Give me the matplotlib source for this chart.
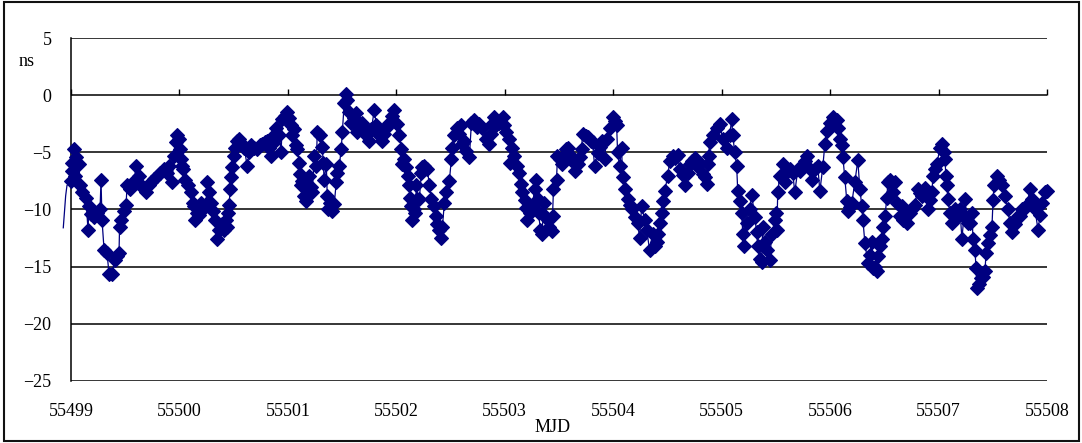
"""Clock offset time series (ns) against MJD, Excel-style diamond markers."""
import numpy as np
import matplotlib
matplotlib.use("Agg")
import matplotlib.pyplot as plt  # noqa: E402
from matplotlib.patches import Rectangle  # noqa: E402

MJD0 = 55499
NAVY = "#000080"

# days since MJD0
dt = [
    0.000, 0.005, 0.010, 0.028, 0.037, 0.046, 0.074, 0.083, 0.102, 0.138,
    0.157, 0.166, 0.185, 0.212, 0.240, 0.268, 0.277, 0.286, 0.305, 0.332,
    0.351, 0.378, 0.406, 0.425, 0.443, 0.448, 0.462, 0.489, 0.508, 0.517,
    0.545, 0.563, 0.582, 0.600, 0.628, 0.646, 0.674, 0.692, 0.720, 0.738,
    0.766, 0.794, 0.822, 0.858, 0.886, 0.905, 0.932, 0.951, 0.969, 0.979,
    0.997, 1.006, 1.015, 1.025, 1.034, 1.052, 1.080, 1.108, 1.126, 1.135,
    1.145, 1.163, 1.182, 1.200, 1.218, 1.246, 1.255, 1.274, 1.292, 1.311,
    1.329, 1.348, 1.366, 1.394, 1.412, 1.431, 1.440, 1.449, 1.458, 1.468,
    1.477, 1.486, 1.505, 1.514, 1.532, 1.551, 1.578, 1.597, 1.625, 1.643,
    1.662, 1.689, 1.717, 1.745, 1.763, 1.791, 1.809, 1.828, 1.846, 1.865,
    1.874, 1.892, 1.920, 1.938, 1.948, 1.975, 1.994, 2.012, 2.031, 2.040,
    2.058, 2.077, 2.086, 2.105, 2.114, 2.123, 2.132, 2.151, 2.169, 2.179,
    2.197, 2.215, 2.225, 2.243, 2.262, 2.271, 2.299, 2.317, 2.326, 2.335,
    2.354, 2.363, 2.372, 2.391, 2.409, 2.428, 2.446, 2.456, 2.474, 2.492,
    2.502, 2.520, 2.539, 2.548, 2.566, 2.585, 2.612, 2.631, 2.640, 2.658,
    2.686, 2.705, 2.723, 2.751, 2.769, 2.797, 2.815, 2.843, 2.871, 2.889,
    2.908, 2.935, 2.963, 2.982, 3.009, 3.028, 3.046, 3.055, 3.074, 3.092,
    3.111, 3.120, 3.129, 3.139, 3.148, 3.166, 3.175, 3.185, 3.194, 3.212,
    3.231, 3.240, 3.258, 3.286, 3.305, 3.323, 3.351, 3.369, 3.379, 3.397,
    3.415, 3.425, 3.443, 3.462, 3.489, 3.508, 3.517, 3.535, 3.563, 3.582,
    3.600, 3.609, 3.628, 3.646, 3.674, 3.692, 3.720, 3.748, 3.766, 3.794,
    3.831, 3.859, 3.877, 3.886, 3.905, 3.923, 3.951, 3.979, 3.997, 4.015,
    4.043, 4.052, 4.071, 4.089, 4.117, 4.135, 4.154, 4.163, 4.182, 4.200,
    4.209, 4.228, 4.255, 4.274, 4.292, 4.302, 4.311, 4.329, 4.339, 4.357,
    4.366, 4.394, 4.412, 4.431, 4.440, 4.449, 4.477, 4.486, 4.505, 4.523,
    4.551, 4.569, 4.579, 4.597, 4.615, 4.643, 4.671, 4.689, 4.708, 4.717,
    4.745, 4.763, 4.791, 4.809, 4.828, 4.855, 4.874, 4.892, 4.920, 4.938,
    4.966, 4.994, 5.012, 5.031, 5.040, 5.058, 5.077, 5.086, 5.105, 5.132,
    5.151, 5.169, 5.197, 5.225, 5.243, 5.262, 5.289, 5.308, 5.335, 5.363,
    5.382, 5.400, 5.409, 5.428, 5.446, 5.455, 5.474, 5.502, 5.520, 5.548,
    5.566, 5.594, 5.612, 5.640, 5.658, 5.686, 5.705, 5.723, 5.751, 5.769,
    5.797, 5.825, 5.843, 5.862, 5.871, 5.880, 5.889, 5.917, 5.954, 5.982,
    6.009, 6.046, 6.074, 6.092, 6.102, 6.120, 6.138, 6.148, 6.166, 6.185,
    6.194, 6.203, 6.231, 6.258, 6.277, 6.305, 6.323, 6.332, 6.351, 6.369,
    6.378, 6.397, 6.415, 6.443, 6.462, 6.489, 6.498, 6.508, 6.517, 6.535,
    6.563, 6.582, 6.609, 6.628, 6.655, 6.674, 6.702, 6.720, 6.748, 6.766,
    6.785, 6.812, 6.831, 6.858, 6.886, 6.905, 6.932, 6.951, 6.969, 6.997,
    7.025, 7.043, 7.062, 7.071, 7.089, 7.108, 7.117, 7.135, 7.154, 7.163,
    7.182, 7.200, 7.228, 7.255, 7.274, 7.292, 7.302, 7.320, 7.348, 7.366,
    7.385, 7.394, 7.412, 7.431, 7.440, 7.458, 7.477, 7.486, 7.505, 7.523,
    7.532, 7.551, 7.578, 7.597, 7.615, 7.643, 7.662, 7.671, 7.689, 7.708,
    7.735, 7.754, 7.781, 7.809, 7.828, 7.846, 7.874, 7.902, 7.920, 7.938,
    7.948, 7.966, 7.985, 8.012, 8.031, 8.049, 8.058, 8.068, 8.077, 8.086,
    8.105, 8.123, 8.151, 8.178, 8.197, 8.215, 8.234, 8.243, 8.261, 8.271,
    8.289, 8.308, 8.317, 8.335, 8.345, 8.354, 8.372, 8.391, 8.409, 8.428,
    8.437, 8.455, 8.474, 8.492, 8.502, 8.511, 8.538, 8.557, 8.585, 8.612,
    8.640, 8.658, 8.677, 8.705, 8.732, 8.751, 8.769, 8.788, 8.815, 8.843,
    8.862, 8.889, 8.917, 8.935, 8.954, 8.982, 9.000,
]

# clock offset, ns
ns = [
    -7.5, -6.6, -5.9, -4.7, -7.1, -5.4, -6.0, -7.9, -8.5, -9.0,
    -11.8, -9.7, -10.4, -10.7, -10.3, -10.0, -7.4, -10.9, -13.5, -13.8,
    -15.6, -15.6, -14.4, -14.1, -13.8, -11.5, -10.9, -10.1, -9.6, -7.9,
    -8.2, -7.9, -7.5, -6.2, -7.1, -7.9, -8.2, -8.5, -7.9, -7.6,
    -7.3, -7.1, -6.8, -6.5, -6.8, -6.2, -7.6, -5.3, -4.1, -3.5,
    -3.8, -4.7, -5.6, -6.2, -6.5, -7.4, -7.9, -8.5, -9.4, -9.7,
    -10.9, -10.3, -10.5, -9.4, -10.0, -9.5, -7.6, -8.5, -9.4, -10.1,
    -10.9, -12.6, -11.8, -11.3, -11.8, -10.9, -11.5, -10.3, -9.6, -8.2,
    -7.2, -6.3, -5.3, -4.6, -4.0, -3.8, -4.3, -4.6, -6.2, -5.0,
    -4.4, -4.6, -4.7, -4.4, -4.3, -4.1, -4.0, -4.6, -5.3, -4.2,
    -3.5, -2.9, -3.5, -5.0, -2.1, -1.8, -1.5, -2.0, -2.6, -3.5,
    -3.0, -4.4, -4.7, -5.9, -6.9, -7.9, -7.5, -8.8, -9.3, -7.9,
    -7.1, -8.0, -8.5, -5.3, -6.2, -3.2, -3.5, -4.5, -5.9, -7.4,
    -6.0, -8.8, -10.0, -9.4, -10.1, -9.5, -7.6, -6.8, -6.2, -4.7,
    -3.2, -0.7, 0.1, -0.4, -1.5, -2.4, -2.0, -1.6, -3.2, -2.9,
    -2.4, -3.0, -3.5, -4.0, -3.0, -1.3, -2.6, -3.5, -4.0, -3.4,
    -2.9, -2.4, -1.8, -1.3, -2.5, -3.5, -4.7, -6.0, -5.6, -6.3,
    -7.1, -7.9, -9.0, -9.7, -10.9, -10.0, -10.3, -7.9, -9.1, -9.1,
    -6.8, -6.3, -6.2, -6.5, -7.9, -9.1, -9.7, -10.6, -11.3, -11.8,
    -12.5, -11.5, -9.4, -8.5, -7.5, -5.6, -4.6, -3.5, -2.9, -3.4,
    -2.6, -4.3, -4.0, -4.9, -5.4, -2.4, -2.2, -2.8, -2.5, -2.9,
    -3.8, -4.3, -3.4, -2.5, -1.9, -2.6, -2.4, -1.9, -2.6, -3.2,
    -3.8, -5.9, -4.6, -5.3, -6.2, -6.8, -7.8, -8.5, -9.2, -9.9,
    -10.9, -10.3, -9.7, -8.2, -7.4, -9.1, -10.3, -11.8, -12.1, -10.5,
    -9.4, -10.9, -11.5, -11.9, -10.6, -8.2, -7.4, -5.3, -5.6, -6.0,
    -5.2, -4.7, -4.6, -5.2, -5.7, -6.6, -6.0, -5.4, -4.7, -3.4,
    -3.6, -3.7, -4.0, -4.1, -6.2, -5.1, -4.5, -4.0, -5.6, -3.8,
    -2.9, -1.9, -2.3, -2.6, -5.0, -6.2, -4.6, -7.2, -8.2, -9.1,
    -9.6, -10.0, -10.7, -11.2, -12.5, -9.7, -10.9, -11.8, -13.5, -12.1,
    -13.2, -12.8, -12.1, -11.2, -10.3, -9.3, -8.4, -7.1, -5.8, -5.3,
    -5.5, -5.2, -6.5, -7.0, -7.9, -6.8, -6.0, -5.8, -5.5, -6.2,
    -5.9, -6.9, -7.2, -7.8, -6.0, -5.3, -4.1, -3.5, -2.9, -2.5,
    -3.8, -4.6, -3.5, -2.1, -3.5, -5.0, -6.2, -8.4, -9.3, -10.3,
    -12.1, -13.2, -11.2, -10.0, -8.7, -10.7, -12.0, -13.2, -14.3, -14.6,
    -11.5, -12.8, -13.5, -14.4, -12.1, -10.9, -10.3, -11.8, -8.5, -7.1,
    -6.0, -7.6, -6.6, -6.5, -6.8, -8.5, -6.5, -6.6, -6.2, -5.8,
    -5.3, -6.5, -7.4, -6.5, -6.2, -8.4, -6.3, -4.3, -3.1, -2.4,
    -1.9, -2.3, -2.2, -2.9, -3.8, -4.4, -5.4, -7.2, -9.3, -10.1,
    -9.8, -9.4, -7.6, -5.7, -8.2, -9.7, -10.9, -12.9, -14.7, -14.0,
    -12.8, -15.1, -15.0, -15.4, -14.1, -13.2, -12.6, -11.5, -10.6, -9.0,
    -7.6, -7.4, -8.5, -7.6, -9.4, -10.6, -9.7, -10.9, -10.5, -11.2,
    -10.3, -10.0, -9.6, -8.2, -8.6, -8.8, -8.1, -10.0, -9.2, -8.5,
    -7.1, -6.5, -6.0, -4.6, -4.3, -5.0, -5.6, -7.1, -7.9, -9.1,
    -10.3, -11.2, -10.0, -10.6, -10.0, -12.6, -10.5, -9.1, -10.9, -11.2,
    -11.2, -10.3, -12.6, -13.5, -15.1, -16.9, -16.5, -16.0, -15.9, -15.4,
    -13.8, -12.9, -12.2, -11.5, -9.2, -7.9, -7.1, -7.4, -7.9, -8.8,
    -10.0, -11.2, -12.0, -11.3, -10.6, -10.6, -10.0, -10.0, -9.6, -8.2,
    -9.1, -10.0, -11.8, -10.5, -9.4, -8.5, -8.4,
]

# thin line that runs in from left of the plot edge (no markers there)
lead_dt = [-0.071, -0.049, -0.037, 0.000]
lead_ns = [-11.6, -8.8, -7.9, -7.5]

x_ticks = list(range(55499, 55509))
y_ticks = list(range(-25, 6, 5))

plt.rcParams["font.family"] = ["Liberation Serif", "DejaVu Serif"]
plt.rcParams["font.size"] = 13

fig = plt.figure(figsize=(10.82, 4.43), dpi=100)
fig.patches.append(Rectangle((0.004, 0.005), 0.993, 0.990, transform=fig.transFigure,
                             fill=False, edgecolor="#111111", lw=1.5))
ax = fig.add_axes([0.0656, 0.140, 0.9021, 0.7742])

ax.plot(MJD0 + np.array(lead_dt), lead_ns, color=NAVY, lw=0.9, clip_on=False)
ax.plot(MJD0 + np.array(dt), ns, color=NAVY, lw=0.9, marker="D", ms=7,
        mfc=NAVY, mec=NAVY, mew=0.8, clip_on=False, zorder=3)

ax.set_xlim(55499, 55508)
ax.set_ylim(-25, 5)
ax.set_yticks(y_ticks)
ax.grid(axis="y", color="black", lw=1.1)
ax.set_axisbelow(True)

for s in ("top", "right"):
    ax.spines[s].set_visible(False)
ax.spines["left"].set_linewidth(1.1)
ax.spines["bottom"].set_position(("data", 0))
ax.spines["bottom"].set_visible(False)
ax.set_xticks(x_ticks)
ax.tick_params(axis="x", direction="in", length=4, width=1, labelbottom=False)
ax.tick_params(axis="y", length=0, pad=14)

sec = ax.secondary_xaxis(0.0)
sec.set_xticks(x_ticks)
sec.set_xticklabels([str(v) for v in x_ticks])
sec.tick_params(length=0, pad=16)
sec.spines["bottom"].set_visible(False)

fig.text(27 / 1082, 1 - 62 / 443, "ns", ha="center", va="center")
fig.text(553 / 1082, 1 - 428 / 443, "MJD", ha="center", va="center")

fig.savefig("out.png", dpi=100)
